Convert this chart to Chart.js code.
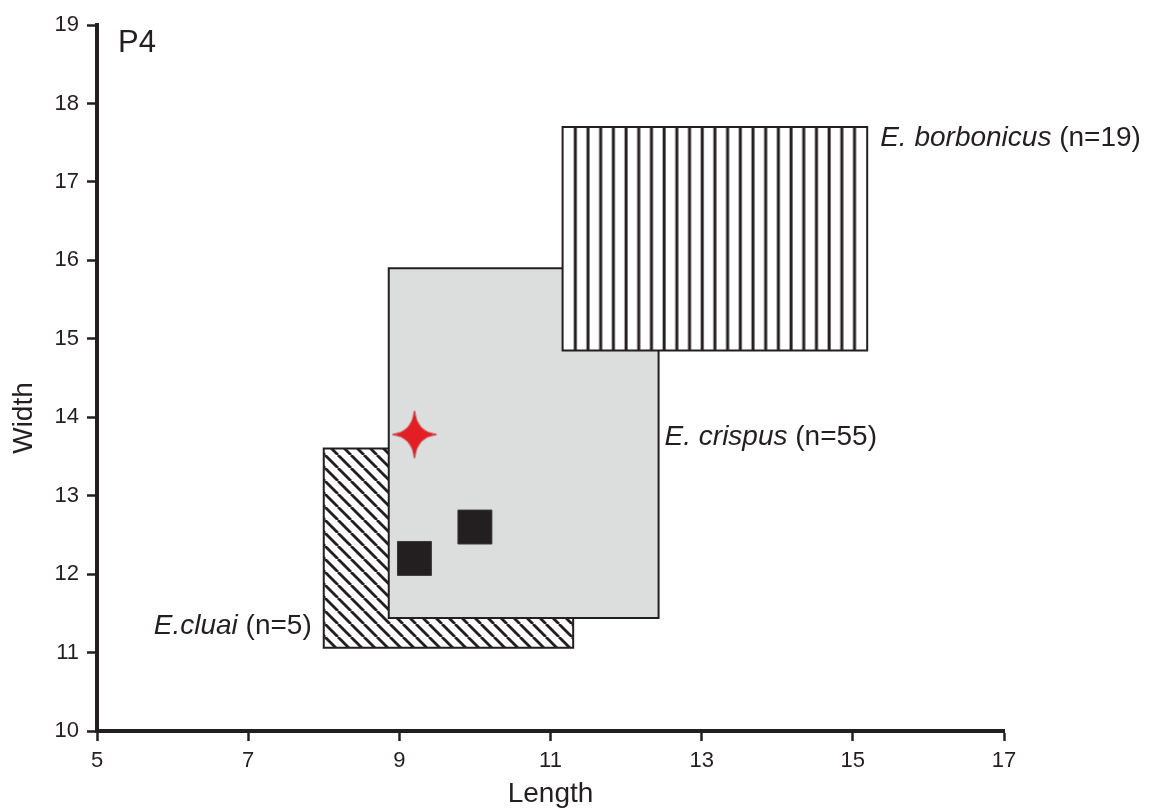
<!DOCTYPE html>
<html>
<head>
<meta charset="utf-8">
<script src="https://cdn.jsdelivr.net/npm/chart.js@4.4.1/dist/chart.umd.min.js"></script>
<style>
  html, body { margin: 0; background: #fff; }
  #wrap { width: 1153px; height: 810px; }
</style>
</head>
<body>
<div id="wrap"><canvas id="chart"></canvas></div>
<script>
// ranges per species: length (x) and width (y)
const speciesItalic = ['E.cluai', 'E. crispus', 'E. borbonicus'];
const speciesCounts = [5, 55, 19];
const lengthMin = [8.0, 8.86, 11.16];
const lengthMax = [11.3, 12.43, 15.19];
const widthMin = [11.06, 11.44, 14.85];
const widthMax = [13.6, 15.9, 17.7];

// single specimens
const specimenLength = [9.2, 10.0];
const specimenWidth = [12.2, 12.6];
const starLength = [9.2];
const starWidth = [13.78];

const xTicks = [5, 7, 9, 11, 13, 15, 17];
const yTicks = [10, 11, 12, 13, 14, 15, 16, 17, 18, 19];

const ink = '#231f20';
const family = '"Liberation Sans", Arial, Helvetica, sans-serif';
Chart.defaults.font.family = family;
Chart.defaults.color = ink;

function box(i) {
  return [
    { x: lengthMin[i], y: widthMin[i] },
    { x: lengthMax[i], y: widthMin[i] },
    { x: lengthMax[i], y: widthMax[i] },
    { x: lengthMin[i], y: widthMax[i] },
    { x: lengthMin[i], y: widthMin[i] }
  ];
}

// diagonal hatch, "\" direction
function diagonalHatch() {
  const s = 13;
  const c = document.createElement('canvas');
  c.width = s; c.height = s;
  const g = c.getContext('2d');
  g.fillStyle = '#fff';
  g.fillRect(0, 0, s, s);
  g.strokeStyle = ink;
  g.lineWidth = 2.8;
  for (let k = -1; k <= 1; k++) {
    g.beginPath();
    g.moveTo(k * s, 0);
    g.lineTo(k * s + s, s);
    g.stroke();
  }
  return g.createPattern(c, 'repeat');
}
const hatch = diagonalHatch();

// vertical stripes lined up with the box edges
function stripes(context) {
  const chart = context.chart;
  const xs = chart.scales && chart.scales.x;
  if (!xs || !chart.chartArea) return '#fff';
  const i = 2;
  const left = xs.getPixelForValue(lengthMin[i]);
  const right = xs.getPixelForValue(lengthMax[i]);
  const w = right - left;
  if (!isFinite(w) || w < 24) return '#fff';
  const c = document.createElement('canvas');
  c.width = Math.ceil(w) + 2; c.height = 4;
  const g = c.getContext('2d');
  g.fillStyle = '#fff';
  g.fillRect(0, 0, c.width, c.height);
  g.fillStyle = ink;
  const gap = w / 24;
  for (let k = 1; k < 24; k++) {
    g.fillRect(k * gap - 1.5, 0, 3, c.height);
  }
  const p = g.createPattern(c, 'repeat');
  p.setTransform(new DOMMatrix().translateSelf(left, 0));
  return p;
}

function makeStar() {
  const c = document.createElement('canvas');
  c.width = 48; c.height = 50;
  const g = c.getContext('2d');
  const cx = 24, cy = 25, rx = 22, ry = 23.5, k = 2.2;
  g.beginPath();
  g.moveTo(cx, cy - ry);
  g.quadraticCurveTo(cx + k, cy - k, cx + rx, cy);
  g.quadraticCurveTo(cx + k, cy + k, cx, cy + ry);
  g.quadraticCurveTo(cx - k, cy + k, cx - rx, cy);
  g.quadraticCurveTo(cx - k, cy - k, cx, cy - ry);
  g.closePath();
  g.fillStyle = '#e31e24';
  g.fill();
  g.strokeStyle = '#c8161d';
  g.lineWidth = 0.8;
  g.stroke();
  return c;
}

const labelPlugin = {
  id: 'labels',
  afterDraw(chart) {
    const { ctx, chartArea, scales: { x, y } } = chart;
    ctx.save();
    ctx.fillStyle = ink;
    ctx.textBaseline = 'alphabetic';

    ctx.font = '31px ' + family;
    ctx.textAlign = 'left';
    ctx.fillText('P4', chartArea.left + 21, chartArea.top + 27);

    // y axis title
    ctx.font = '28px ' + family;
    ctx.save();
    ctx.translate(32, 418);
    ctx.rotate(-Math.PI / 2);
    ctx.textAlign = 'center';
    ctx.fillText('Width', 0, 0);
    ctx.restore();

    function label(i, px, py, alignRight) {
      const it = speciesItalic[i];
      const rest = ' (n=' + speciesCounts[i] + ')';
      ctx.font = 'italic 28px ' + family;
      const w1 = ctx.measureText(it).width;
      ctx.font = '28px ' + family;
      const w2 = ctx.measureText(rest).width;
      const x0 = alignRight ? px - w1 - w2 : px;
      ctx.textAlign = 'left';
      ctx.font = 'italic 28px ' + family;
      ctx.fillText(it, x0, py);
      ctx.font = '28px ' + family;
      ctx.fillText(rest, x0 + w1, py);
    }
    label(2, x.getPixelForValue(lengthMax[2]) + 13, y.getPixelForValue(widthMax[2]) + 19, false);
    label(1, x.getPixelForValue(lengthMax[1]) + 6,
      (y.getPixelForValue(widthMin[1]) + y.getPixelForValue(widthMax[1])) / 2 + 2, false);
    label(0, x.getPixelForValue(lengthMin[0]) - 12, y.getPixelForValue(widthMin[0]) - 14, true);
    ctx.restore();
  }
};

const boxStyle = {
  showLine: true,
  fill: 'shape',
  borderColor: ink,
  borderWidth: 2,
  borderJoinStyle: 'miter',
  borderCapStyle: 'square',
  pointRadius: 0,
  tension: 0
};

new Chart(document.getElementById('chart'), {
  type: 'scatter',
  data: {
    datasets: [
      {
        label: 'star',
        data: starLength.map((v, i) => ({ x: v, y: starWidth[i] })),
        pointStyle: makeStar(),
        pointRadius: 24,
        order: 0
      },
      {
        label: 'specimens',
        data: specimenLength.map((v, i) => ({ x: v, y: specimenWidth[i] })),
        pointStyle: 'rect',
        pointRadius: 24,
        backgroundColor: ink,
        borderColor: '#3c3839',
        borderWidth: 1,
        order: 1
      },
      Object.assign({ label: 'borbonicus', data: box(2), backgroundColor: stripes, order: 2 }, boxStyle),
      Object.assign({ label: 'crispus', data: box(1), backgroundColor: '#dcdddd', order: 3 }, boxStyle),
      Object.assign({ label: 'cluai', data: box(0), backgroundColor: hatch, order: 4 }, boxStyle)
    ]
  },
  options: {
    responsive: true,
    maintainAspectRatio: false,
    animation: false,
    events: [],
    layout: { padding: { top: 20, right: 149, left: 0, bottom: 0 } },
    plugins: {
      legend: { display: false },
      tooltip: { enabled: false }
    },
    scales: {
      x: {
        type: 'linear',
        min: 5,
        max: 17,
        afterBuildTicks: s => { s.ticks = xTicks.map(v => ({ value: v })); },
        afterFit: s => { s.height = 79; },
        ticks: { color: ink, font: { size: 22 }, padding: 7 },
        grid: { drawOnChartArea: false, drawTicks: true, tickLength: 10, tickWidth: 2.5, tickColor: ink },
        border: { display: true, color: ink, width: 4 },
        title: { display: true, text: 'Length', color: ink, font: { size: 28, lineHeight: 1.1 }, padding: 0 }
      },
      y: {
        type: 'linear',
        min: 10,
        max: 19,
        afterBuildTicks: s => { s.ticks = yTicks.map(v => ({ value: v })); },
        afterFit: s => { s.width = 97; },
        ticks: { color: ink, font: { size: 22 }, padding: 8 },
        grid: { drawOnChartArea: false, drawTicks: true, tickLength: 10, tickWidth: 2.5, tickColor: ink },
        border: { display: true, color: ink, width: 4 }
      }
    }
  },
  plugins: [labelPlugin]
});
</script>
</body>
</html>
